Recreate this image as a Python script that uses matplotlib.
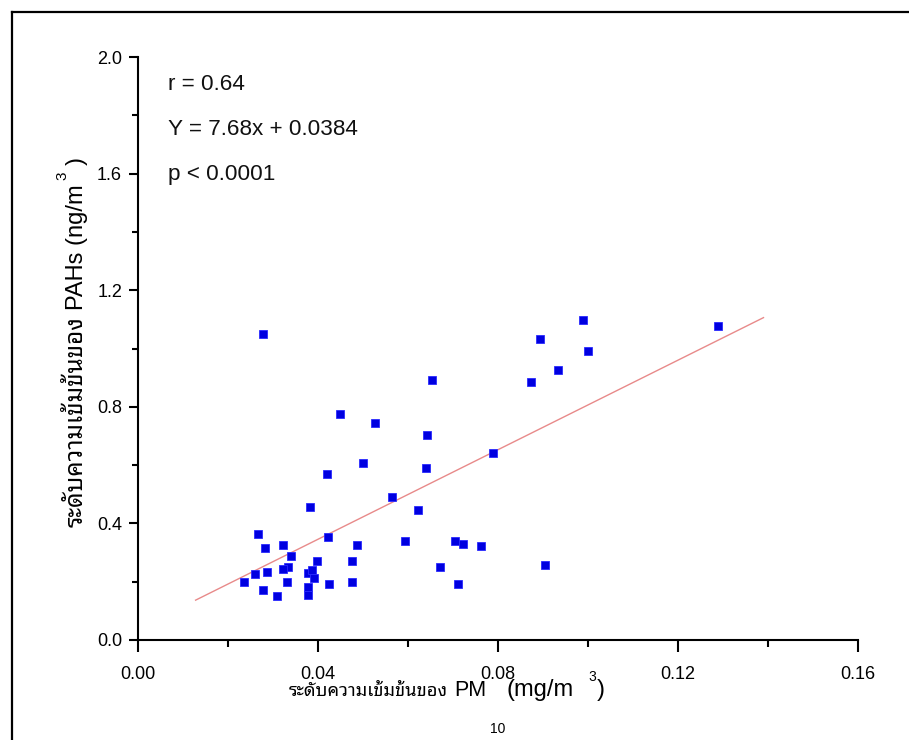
import matplotlib
matplotlib.use("Agg")
import matplotlib.pyplot as plt
from matplotlib import font_manager as fm
from matplotlib.font_manager import FontProperties
from matplotlib.ft2font import FT2Font
from matplotlib.lines import Line2D
from matplotlib.ticker import MultipleLocator, FormatStrFormatter

# ---------------- data ----------------
pm10 = [0.0278, 0.0448, 0.0527, 0.0501, 0.0419, 0.0382, 0.0267, 0.0422, 0.0283, 0.0323,
        0.0487, 0.0341, 0.0397, 0.0476, 0.0334, 0.0323, 0.0259, 0.0287, 0.0378, 0.0386,
        0.0391, 0.0236, 0.0331, 0.0424, 0.0476, 0.0378, 0.0278, 0.0309, 0.0378,
        0.0989, 0.1288, 0.0893, 0.1000, 0.0934, 0.0874, 0.0654, 0.0642, 0.0640, 0.0788,
        0.0565, 0.0623, 0.0593, 0.0705, 0.0722, 0.0762, 0.0671, 0.0711, 0.0904]
pahs = [1.049, 0.774, 0.743, 0.608, 0.569, 0.455, 0.364, 0.355, 0.317, 0.326,
        0.326, 0.289, 0.272, 0.272, 0.251, 0.242, 0.226, 0.233, 0.231, 0.240,
        0.212, 0.199, 0.199, 0.191, 0.199, 0.181, 0.173, 0.151, 0.153,
        1.097, 1.076, 1.031, 0.993, 0.926, 0.885, 0.891, 0.704, 0.589, 0.643,
        0.491, 0.446, 0.341, 0.339, 0.331, 0.324, 0.249, 0.192, 0.256]
slope = 7.68
intercept = 0.0384
fit_x = [0.0128, 0.1390]
stats_text = ["r = 0.64", "Y = 7.68x + 0.0384", "p < 0.0001"]
label_thai = "ระดับความเข้มข้นของ"
xlabel_parts = ["PM", "10", "(mg/m", "3", ")"]
ylabel_parts = ["PAHs (ng/m", "3", ")"]

# ---------------- fonts ----------------
def has_thai(path):
    try:
        return 0x0E14 in FT2Font(path).get_charmap()
    except Exception:
        return False

thai_entries = [f for f in fm.fontManager.ttflist if has_thai(f.fname)]
stretch_rank = {"ultra-condensed": 0, "extra-condensed": 1, "condensed": 2,
                "semi-condensed": 3}


def is_num_stretch(s):
    try:
        return float(s) < 100
    except Exception:
        return False


thai_path = None
condensed = [f for f in thai_entries
             if (f.stretch in stretch_rank or is_num_stretch(f.stretch))
             and f.style == "normal" and f.weight in (400, "normal", "regular")
             and "Sans" in f.name]
if condensed:
    condensed.sort(key=lambda f: stretch_rank.get(f.stretch, 2))
    thai_path = condensed[0].fname
else:
    for cand in ["Noto Sans Thai Looped", "IBM Plex Sans Thai Looped", "Noto Sans Thai",
                 "IBM Plex Sans Thai"]:
        hits = [f for f in thai_entries if f.name == cand and f.style == "normal"
                and f.weight in (400, "normal", "regular")]
        if hits:
            thai_path = hits[0].fname
            break
    if thai_path is None and thai_entries:
        thai_path = thai_entries[0].fname

plt.rcParams["font.family"] = ["Liberation Sans", "DejaVu Sans"]


def thai_prop(size):
    if thai_path:
        return FontProperties(fname=thai_path, size=size)
    return FontProperties(family="DejaVu Sans", size=size)


# ---------------- figure ----------------
W, H = 909, 740
fig = plt.figure(figsize=(W / 100, H / 100), dpi=100)
ax = fig.add_axes([138 / W, 1 - 640 / H, 720 / W, 583 / H])

ax.plot(fit_x, [slope * v + intercept for v in fit_x], color="#e88a8a", lw=1.0, zorder=2)
ax.plot(pm10, pahs, ls="none", marker="s", ms=6.4, mfc="#0000e0", mec="#2a2aff",
        mew=0.6, zorder=3)

ax.set_xlim(0, 0.16)
ax.set_ylim(0, 2.0)
ax.xaxis.set_major_locator(MultipleLocator(0.04))
ax.xaxis.set_minor_locator(MultipleLocator(0.02))
ax.yaxis.set_major_locator(MultipleLocator(0.4))
ax.yaxis.set_minor_locator(MultipleLocator(0.2))
ax.xaxis.set_major_formatter(FormatStrFormatter("%.2f"))
ax.yaxis.set_major_formatter(FormatStrFormatter("%.1f"))
for s in ("top", "right"):
    ax.spines[s].set_visible(False)
for s in ("left", "bottom"):
    ax.spines[s].set_linewidth(1.5)
ax.tick_params(axis="x", which="major", direction="out", length=8.5, width=1.5,
               labelsize=13, pad=10)
ax.tick_params(axis="x", which="minor", direction="out", length=5, width=1.5)
ax.tick_params(axis="y", which="major", direction="out", length=6.5, width=1.5,
               labelsize=13, pad=5)
ax.tick_params(axis="y", which="minor", direction="out", length=4, width=1.5)
ax.set_facecolor("white")

ys = [0.952, 0.8765, 0.7976]
for t, yy in zip(stats_text, ys):
    ax.text(0.042, yy, t, transform=ax.transAxes, fontsize=16.2, va="center", ha="left",
            color="#111111")

# ---------------- axis labels built piecewise ----------------
fig.canvas.draw()
r = fig.canvas.get_renderer()


def fitted_size(text, target, lo, hi):
    probe = fig.text(0, 0, text, transform=None, fontproperties=thai_prop(10))
    w = probe.get_window_extent(r).width
    probe.remove()
    return max(lo, min(hi, 10 * target / w))


# x label (display pixel coordinates, origin bottom-left)
bx = H - 696
sx = fitted_size(label_thai, 160, 12.5, 15)
fig.text(448, bx, label_thai, transform=None, fontproperties=thai_prop(sx),
         ha="right", va="baseline")
fig.text(454, bx, xlabel_parts[0], transform=None, fontsize=15.5, ha="left", va="baseline")
fig.text(490, H - 733, xlabel_parts[1], transform=None, fontsize=10, ha="left", va="baseline")
fig.text(507, bx, xlabel_parts[2], transform=None, fontsize=17, ha="left", va="baseline")
fig.text(588, H - 681, xlabel_parts[3], transform=None, fontsize=10, ha="left", va="baseline")
fig.text(597, bx, xlabel_parts[4], transform=None, fontsize=17, ha="left", va="baseline")

# y label (rotated, reads bottom to top)
by = 83
sy = fitted_size(label_thai, 212, 12, 22)
fig.text(by, H - 527, label_thai, transform=None, fontproperties=thai_prop(sy),
         rotation=90, rotation_mode="anchor", ha="left", va="baseline")
fig.text(by, H - 310, ylabel_parts[0], transform=None, fontsize=17, rotation=90,
         rotation_mode="anchor", ha="left", va="baseline")
fig.text(66, H - 180, ylabel_parts[1], transform=None, fontsize=11, rotation=90,
         rotation_mode="anchor", ha="left", va="baseline")
fig.text(by, H - 165, ylabel_parts[2], transform=None, fontsize=17, rotation=90,
         rotation_mode="anchor", ha="left", va="baseline")

# outer frame (top and left edges visible)
fig.add_artist(Line2D([12 / W, 12 / W], [0, 1 - 12 / H], transform=fig.transFigure,
                      color="black", lw=1.6))
fig.add_artist(Line2D([12 / W, 1], [1 - 12 / H, 1 - 12 / H], transform=fig.transFigure,
                      color="black", lw=1.6))

fig.savefig("out.png", dpi=100, facecolor="white")
